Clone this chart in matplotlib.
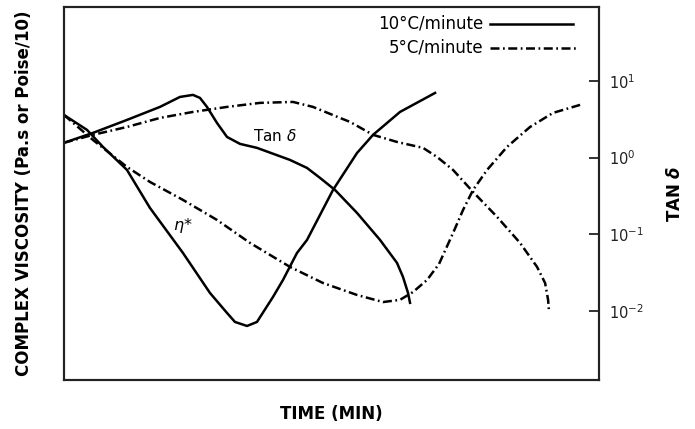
import numpy as np
import matplotlib.pyplot as plt
from matplotlib.ticker import FixedLocator, NullLocator

plt.rcParams['font.family'] = ['DejaVu Sans']
plt.rcParams['mathtext.fontset'] = 'dejavusans'

# time axis is unitless (0-100 % of the run)
# 10 C/minute, tan delta
t_tan10 = [0, 5.42, 11.78, 17.94, 21.68, 24.11, 25.42, 26.73, 28.60, 30.47, 32.90, 36.07,
           42.24, 45.42, 47.85, 50.65, 54.77, 59.07, 62.24, 63.36, 64.30, 64.67]
tan10 = [1.56, 2.10, 3.10, 4.58, 6.18, 6.57, 6.00, 4.58, 2.83, 1.86, 1.51, 1.34,
         0.933, 0.734, 0.544, 0.379, 0.190, 0.0845, 0.0424, 0.0278, 0.0172, 0.0128]

# 10 C/minute, complex viscosity
t_eta10 = [0, 4.30, 7.29, 11.78, 16.07, 22.24, 27.29, 30.47, 31.96, 34.21, 36.07, 39.07,
           40.93, 43.55, 45.42, 50.28, 54.77, 57.76, 62.80, 69.35]
eta10 = [3.60, 2.30, 1.38, 0.691, 0.221, 0.0572, 0.0172, 0.00945, 0.00721, 0.00639, 0.00721, 0.0153,
         0.0254, 0.0572, 0.0845, 0.379, 1.15, 1.98, 3.94, 6.97]

# 5 C/minute, tan delta
t_tan5 = [0, 5.42, 11.78, 17.94, 24.11, 30.47, 36.64, 42.80, 46.54, 51.59, 53.46, 57.76,
          62.24, 67.10, 69.72, 72.71, 76.45, 80.93, 85.23, 88.41, 89.91, 90.47, 90.65]
tan5 = [1.56, 1.98, 2.51, 3.29, 3.94, 4.58, 5.17, 5.32, 4.58, 3.29, 2.92, 1.98,
        1.60, 1.34, 1.02, 0.691, 0.357, 0.169, 0.0773, 0.0376, 0.0232, 0.0140, 0.00973]

# 5 C/minute, complex viscosity
t_eta5 = [0, 5.42, 11.78, 16.07, 22.24, 28.60, 34.77, 42.24, 48.41, 54.77, 59.63, 62.80,
          65.23, 67.85, 70.09, 72.71, 74.58, 76.45, 79.07, 82.80, 87.10, 91.40, 96.45]
eta5 = [3.60, 1.70, 0.756, 0.482, 0.281, 0.154, 0.0773, 0.0376, 0.0232, 0.0162, 0.0131, 0.0140,
        0.0177, 0.0254, 0.0411, 0.104, 0.208, 0.379, 0.691, 1.38, 2.51, 3.83, 4.87]

tan_ticks = [1e-2, 1e-1, 1e0, 1e1]
tan_labels = ['$10^{-2}$', '$10^{-1}$', '$10^{0}$', '$10^{1}$']

ylo, yhi = 10 ** -2.9, 10 ** 1.965
dashdot = (0, (3.6, 1.4, 0.7, 1.4))
lw = 1.8

fig = plt.figure(figsize=(6.95, 4.29), dpi=100)
ax = fig.add_axes([0.092, 0.114, 0.77, 0.87])
ax2 = ax.twinx()

ax.plot(t_eta10, eta10, color='black', lw=lw, solid_joinstyle='round')
ax.plot(t_eta5, eta5, color='black', lw=lw, linestyle=dashdot)
ax2.plot(t_tan10, tan10, color='black', lw=lw, solid_joinstyle='round')
ax2.plot(t_tan5, tan5, color='black', lw=lw, linestyle=dashdot)

for a in (ax, ax2):
    a.set_yscale('log')
    a.set_ylim(ylo, yhi)
    a.set_xlim(0, 100)
    for s in a.spines.values():
        s.set_linewidth(1.5)
        s.set_color('#222222')

ax.set_xticks([])
ax.yaxis.set_major_locator(NullLocator())
ax.yaxis.set_minor_locator(NullLocator())
ax2.yaxis.set_major_locator(FixedLocator(tan_ticks))
ax2.yaxis.set_minor_locator(NullLocator())
ax2.set_yticklabels(tan_labels)
ax2.tick_params(axis='y', direction='in', length=7, width=1.3, labelsize=10.5, pad=7, colors='#222222')

ax.set_ylabel('COMPLEX VISCOSITY (Pa.s or Poise/10)', fontsize=12, fontweight='bold', labelpad=22)
ax.set_xlabel('TIME (MIN)', fontsize=12, fontweight='bold', labelpad=18)
ax2.set_ylabel('TAN $\\boldsymbol{\\delta}$', fontsize=12, fontweight='bold', labelpad=16)

# curve labels
ax.text(0.395, 0.655, 'Tan $\\delta$', transform=ax.transAxes, fontsize=11, ha='center', va='center')
ax.text(0.222, 0.413, '$\\eta$*', transform=ax.transAxes, fontsize=11.5, style='italic', ha='center', va='center')

# legend drawn as text + sample lines
ax.text(0.783, 0.955, '10°C/minute', transform=ax.transAxes, fontsize=12, ha='right', va='center')
ax.text(0.783, 0.89, '5°C/minute', transform=ax.transAxes, fontsize=12, ha='right', va='center')
ax.plot([0.796, 0.951], [0.955, 0.955], transform=ax.transAxes, color='black', lw=lw, clip_on=False)
ax.plot([0.796, 0.96], [0.89, 0.89], transform=ax.transAxes, color='black', lw=lw, linestyle=dashdot, clip_on=False)

fig.savefig('out.png', dpi=100)
